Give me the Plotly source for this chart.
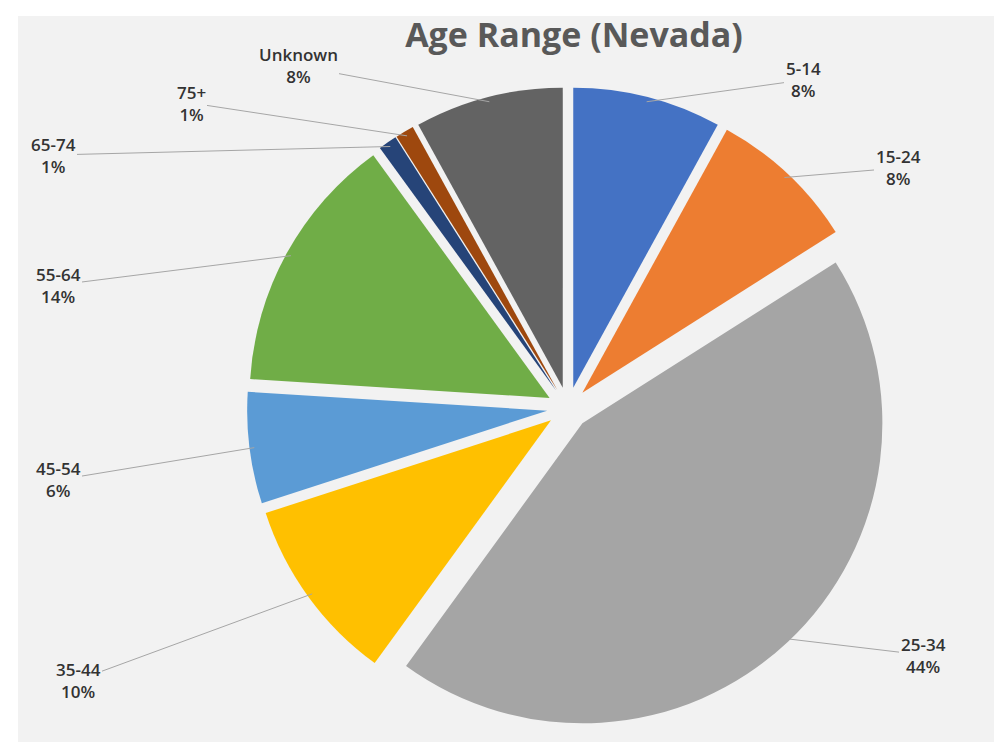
import math
import plotly.graph_objects as go

age_groups = ["5-14", "15-24", "25-34", "35-44", "45-54", "55-64", "65-74", "75+", "Unknown"]
shares = [8, 8, 44, 10, 6, 14, 1, 1, 8]
colors = ["#4472C4", "#ED7D31", "#A5A5A5", "#FFC000", "#5B9BD5",
          "#70AD47", "#264478", "#9E480E", "#636363"]

# page geometry (pixels)
W, H = 1002, 742
PULL = 0.07
center_px = (560, 400)
outer_px = 321  # radius incl. pull

# where each data label sits (pixel centre), Excel-style hand placement
label_pos = [(795, 72), (890, 160), (915, 647), (70, 672), (50, 472),
             (50, 277), (45, 147), (183, 95), (290, 58)]

dom_x = [(center_px[0] - outer_px) / W, (center_px[0] + outer_px) / W]
dom_y = [1 - (center_px[1] + outer_px) / H, 1 - (center_px[1] - outer_px) / H]

fig = go.Figure()
fig.add_trace(go.Pie(
    labels=age_groups, values=shares,
    sort=False, direction="clockwise", rotation=0,
    pull=[PULL] * len(shares),
    marker=dict(colors=colors, line=dict(width=0)),
    textinfo="none",
    hoverinfo="label+percent",
    domain=dict(x=dom_x, y=dom_y),
    showlegend=False,
))

# data labels with leader lines, anchored on each slice's outer arc
total = sum(shares)
cum = 0
for name, v, (lx, ly) in zip(age_groups, shares, label_pos):
    mid = math.radians((cum + v / 2) / total * 360)
    cum += v
    px = center_px[0] + outer_px * 0.985 * math.sin(mid)
    py = center_px[1] - outer_px * 0.985 * math.cos(mid)
    fig.add_annotation(
        x=px / W, y=1 - py / H, xref="paper", yref="paper",
        ax=lx - px, ay=ly - py,
        text=f"{name}<br>{v / total:.0%}",
        showarrow=True, arrowhead=0, arrowwidth=1, arrowcolor="#a6a6a6",
        font=dict(family="Open Sans, sans-serif", size=17, color="#333333", weight=600),
        align="center",
    )

fig.add_shape(type="rect", xref="paper", yref="paper",
              x0=10 / W, x1=1, y0=0, y1=1 - 8 / H,
              fillcolor="#f2f2f2", line=dict(width=0), layer="below")

fig.update_layout(
    title=dict(text="<b>Age Range (Nevada)</b>", x=566 / W, xanchor="center",
               y=1 - 27 / H, yanchor="middle",
               font=dict(family="Open Sans, sans-serif", size=34, color="#595959")),
    paper_bgcolor="white",
    plot_bgcolor="white",
    margin=dict(l=0, r=0, t=0, b=0),
    width=W, height=H,
)
fig.write_html("out.html")
